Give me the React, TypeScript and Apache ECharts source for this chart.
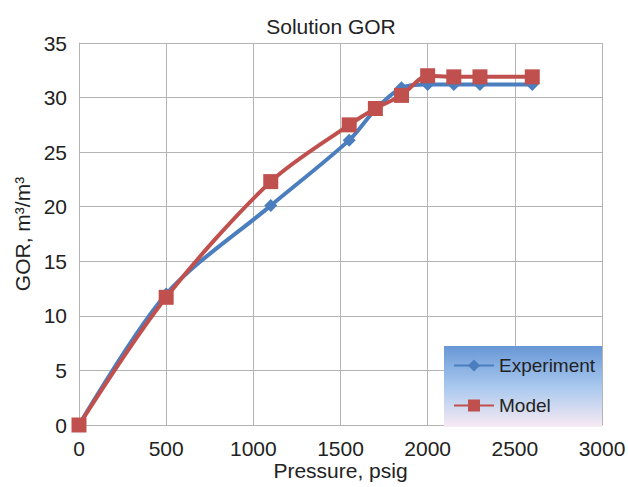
import React, { useEffect, useRef } from "react";
import * as echarts from "echarts";

const pressures = [0, 500, 1100, 1550, 1700, 1850, 2000, 2150, 2300, 2600];
const experiment = [0, 12.0, 20.1, 26.1, 28.9, 30.9, 31.2, 31.2, 31.2, 31.2];
const model = [0, 11.7, 22.3, 27.5, 29.0, 30.2, 32.0, 31.9, 31.9, 31.9];
const xTicks = [0, 3000, 500];
const yTicks = [0, 35, 5];

export default function App() {
  const ref = useRef<HTMLDivElement>(null);
  useEffect(() => {
    if (!ref.current) return;
    const chart = echarts.init(ref.current, null, { renderer: "svg" });
    const font = "Liberation Sans";
    const grid = { color: "#b4b4b4", width: 1 };
    const fs = 21;
    chart.setOption({
      animation: false,
      backgroundColor: "#ffffff",
      textStyle: { fontFamily: font },
      title: {
        text: "Solution GOR",
        left: 326,
        textAlign: "center",
        top: 11,
        textStyle: { fontSize: fs, fontWeight: "normal", color: "#222", fontFamily: font },
      },
      grid: { left: 79, right: 26, top: 43, bottom: 62, containLabel: false, outerBoundsMode: "none" },
      graphic: [
        {
          type: "rect",
          z: 5,
          shape: { x: 444, y: 346, width: 158, height: 81 },
          style: {
            fill: new echarts.graphic.LinearGradient(0, 0, 0, 1, [
              { offset: 0, color: "#6897d6" },
              { offset: 0.5, color: "#a8c8ee" },
              { offset: 1, color: "#f8ebf3" },
            ]),
          },
        },
      ],
      xAxis: {
        type: "value",
        min: xTicks[0],
        max: xTicks[1],
        interval: xTicks[2],
        name: "Pressure, psig",
        nameLocation: "middle",
        nameGap: 35,
        nameMoveOverlap: false,
        nameTextStyle: { fontSize: fs, color: "#222", fontFamily: font },
        axisLine: { lineStyle: grid },
        axisTick: { show: false },
        axisLabel: { fontSize: fs, color: "#222", margin: 13, fontFamily: font, formatter: (v: number) => String(v) },
        splitLine: { show: true, lineStyle: grid },
      },
      yAxis: {
        type: "value",
        min: yTicks[0],
        max: yTicks[1],
        interval: yTicks[2],
        name: "GOR, m³/m³",
        nameLocation: "middle",
        nameGap: 46,
        nameMoveOverlap: false,
        nameTextStyle: { fontSize: fs, color: "#222", fontFamily: font },
        axisLine: { show: true, lineStyle: grid },
        axisTick: { show: false },
        axisLabel: { fontSize: fs, color: "#222", margin: 12, fontFamily: font, formatter: (v: number) => String(v) },
        splitLine: { show: true, lineStyle: grid },
      },
      legend: {
        orient: "vertical",
        left: 453,
        top: 356,
        padding: 0,
        itemGap: 21,
        itemWidth: 40,
        itemHeight: 15,
        z: 10,
        textStyle: { fontSize: 19, color: "#222", fontFamily: font },
        data: ["Experiment", "Model"],
      },
      series: [
        {
          name: "Experiment",
          type: "line",
          data: pressures.map((p, i) => [p, experiment[i]]),
          smooth: 0.3,
          symbol: "diamond",
          symbolSize: 13,
          lineStyle: { color: "#4a7ebf", width: 4 },
          itemStyle: { color: "#4a7ebf" },
          z: 2,
        },
        {
          name: "Model",
          type: "line",
          data: pressures.map((p, i) => [p, model[i]]),
          smooth: 0.3,
          symbol: "rect",
          symbolSize: 15,
          lineStyle: { color: "#c0504d", width: 4 },
          itemStyle: { color: "#c0504d" },
          z: 3,
        },
      ],
    });
    return () => chart.dispose();
  }, []);
  return <div ref={ref} style={{ width: 628, height: 487, position: "absolute", left: 0, top: 0 }} />;
}
